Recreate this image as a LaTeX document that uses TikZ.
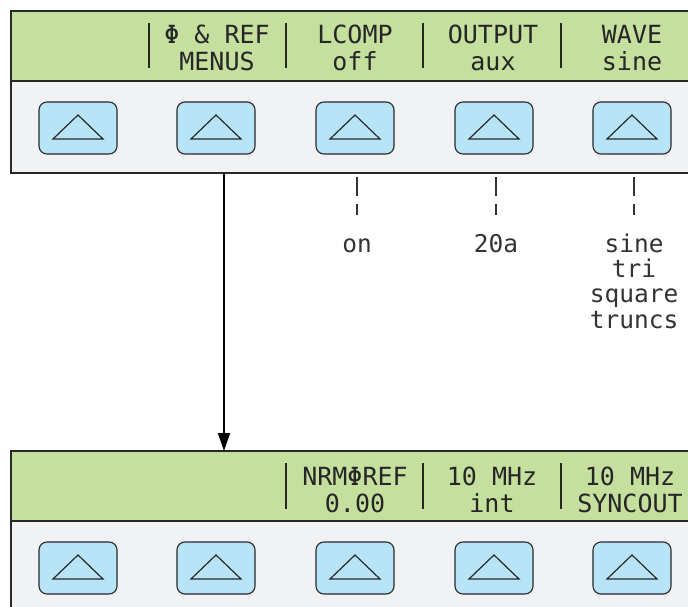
\documentclass[tikz,border=0pt]{standalone}
\usepackage{fontspec}
\newfontfamily\lcd{DejaVu Sans Mono}
\usetikzlibrary{calc,arrows.meta}
\definecolor{lcdgreen}{RGB}{197,223,158}
\definecolor{panelgray}{RGB}{241,242,244}
\definecolor{btnblue}{RGB}{184,228,248}
\definecolor{edge}{RGB}{40,40,40}
\tikzset{
  btn/.style={draw=edge, line width=1.1pt, fill=btnblue, rounded corners=8pt, minimum width=78pt, minimum height=52pt, inner sep=0pt},
  lcdtext/.style={font=\lcd\fontsize{25}{27}\selectfont, text=black!85, anchor=base, inner sep=0pt},
  subtext/.style={font=\lcd\fontsize{24.5}{25}\selectfont, text=black!80, anchor=base, inner sep=0pt},
  sep/.style={line width=2pt, draw=black!85},
  tick/.style={line width=1.3pt, draw=black!80},
}
\newcommand{\tri}[1]{\draw[line width=1.2pt, edge, line join=miter] ($(#1)+(-25,11)$) -- ($(#1)+(0,-13)$) -- ($(#1)+(25,11)$) -- cycle;}
\begin{document}
\begin{tikzpicture}[x=1pt,y=-1pt]
\useasboundingbox (0,0) rectangle (688,607);
\begin{scope}
\clip (0,0) rectangle (688,607);
% top panel
\fill[panelgray] (11,81) rectangle (700,173);
\fill[lcdgreen] (11,11) rectangle (700,81);
\draw[edge, line width=1.3pt] (700,11) -- (11,11) -- (11,173) -- (700,173);
\draw[edge, line width=1.3pt] (11,81) -- (700,81);
% bottom panel
\fill[panelgray] (11,521) rectangle (700,620);
\fill[lcdgreen] (11,451) rectangle (700,521);
\draw[edge, line width=1.3pt] (700,451) -- (11,451) -- (11,620);
\draw[edge, line width=1.3pt] (11,521) -- (700,521);
\end{scope}
% buttons
\foreach \i/\x in {1/78,2/216,3/355,4/494,5/632}{
  \node[btn] (t\i) at (\x,128) {};
  \tri{t\i}
  \node[btn] (b\i) at (\x,568) {};
  \tri{b\i}
}
% separators
\foreach \x in {149,286,423,561}{\draw[sep] (\x,23) -- (\x,68);}
\foreach \x in {286,423,561}{\draw[sep] (\x,463) -- (\x,509);}
% top labels
\node[lcdtext] (l2a) at (217,44) {Φ \& REF};
\node[lcdtext] (l2b) at (217,71) {MENUS};
\node[lcdtext] (l3a) at (355,44) {LCOMP};
\node[lcdtext] (l3b) at (355,71) {off};
\node[lcdtext] (l4a) at (493,44) {OUTPUT};
\node[lcdtext] (l4b) at (493,71) {aux};
\node[lcdtext] (l5a) at (632,44) {WAVE};
\node[lcdtext] (l5b) at (632,71) {sine};
% bottom labels
\node[lcdtext] (m3a) at (355,485) {NRMΦREF};
\node[lcdtext] (m3b) at (355,512) {0.00};
\node[lcdtext] (m4a) at (492,485) {10 MHz};
\node[lcdtext] (m4b) at (492,512) {int};
\node[lcdtext] (m5a) at (630,485) {10 MHz};
\node[lcdtext] (m5b) at (630,512) {SYNCOUT};
% option lists
\node[subtext] (o3) at (357,252) {on};
\node[subtext] (o4) at (496,252) {20a};
\node[subtext] (o5a) at (634,252) {sine};
\node[subtext] (o5b) at (634,277.3) {tri};
\node[subtext] (o5c) at (634,302.6) {square};
\node[subtext] (o5d) at (634,328) {truncs};
% dashed ticks
\foreach \x in {357,496,634}{
  \draw[tick] (\x,177) -- (\x,196);
  \draw[tick] (\x,204) -- (\x,215);
}
% arrow
\coordinate (as) at (224,173);
\coordinate (ae) at (224,451);
\draw[line width=1.8pt, -{Triangle[length=18pt,width=12pt]}] (as) -- (ae);
\end{tikzpicture}
\end{document}
